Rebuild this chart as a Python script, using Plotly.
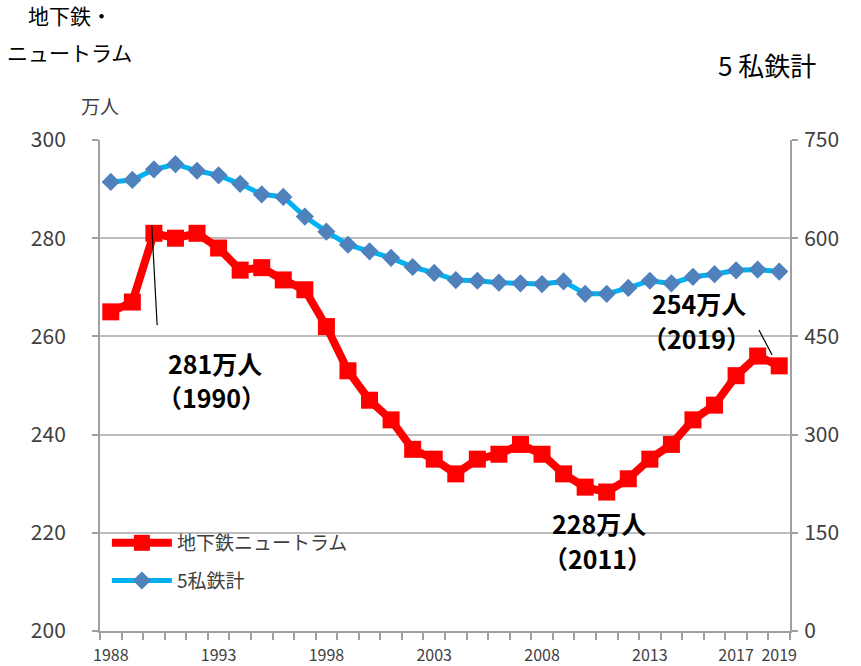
import plotly.graph_objects as go

years = list(range(1988, 2020))
subway = [265, 267, 281, 280, 281, 278, 273.5, 274, 271.5, 269.5, 262, 253, 247, 243, 237, 235,
          232, 235, 236, 238, 236, 232, 229.3, 228.3, 231, 235, 238, 243, 246, 252, 256, 254]
private5 = [686, 689, 705, 713, 703, 696, 683, 667, 663, 633, 610, 590, 580, 570, 556, 547,
            536, 535, 532, 531, 530, 534, 515, 515, 524, 535, 531, 541, 545, 551, 552, 549]
xtick_vals = [1988, 1993, 1998, 2003, 2008, 2013, 2017, 2019]
name_subway = "地下鉄ニュートラム"
name_private = "5私鉄計"

FONT = "Noto Sans CJK JP"
GREY = "#404040"

fig = go.Figure()
fig.add_trace(go.Scatter(x=years, y=subway, name=name_subway, yaxis="y",
                         mode="lines+markers", legendgroup="a",
                         line=dict(color="#FF0000", width=8),
                         marker=dict(symbol="square", size=17, color="#FF0000")))
fig.add_trace(go.Scatter(x=years, y=private5, name=name_private, yaxis="y2",
                         mode="lines+markers", legendgroup="b",
                         line=dict(color="#00B0F0", width=5),
                         marker=dict(symbol="diamond", size=14, color="#4F81BD")))

fig.update_layout(
    width=861, height=666,
    margin=dict(l=100, r=71, t=140, b=35),
    plot_bgcolor="white", paper_bgcolor="white",
    font=dict(family=FONT, color=GREY),
    showlegend=True,
    legend=dict(x=0.01, y=0.218, xanchor="left", yanchor="top",
                traceorder="grouped", bgcolor="rgba(0,0,0,0)",
                font=dict(size=19, color=GREY, family=FONT),
                itemwidth=60, tracegroupgap=10),
    xaxis=dict(range=[1987.5, 2019.5], tickmode="array", tickvals=xtick_vals,
               ticks="", showgrid=False, showline=True, linecolor="#A0A0A0", linewidth=2,
               tickfont=dict(size=16, color=GREY), ticklabelstandoff=9, automargin=False,
               minor=dict(ticks="outside", tickmode="linear", tick0=1987.5, dtick=1,
                          ticklen=7, tickcolor="#A0A0A0", tickwidth=2, showgrid=False),
               zeroline=False),
    yaxis=dict(range=[200, 300], tickvals=[200, 220, 240, 260, 280, 300],
               showgrid=True, gridcolor="#BDBDBD", gridwidth=2,
               showline=True, linecolor="#A0A0A0", linewidth=2, automargin=False,
               ticks="outside", ticklen=6, tickcolor="#A0A0A0", tickwidth=2,
               tickfont=dict(size=21, color=GREY), ticklabelstandoff=22, zeroline=False),
    yaxis2=dict(range=[0, 750], tickvals=[0, 150, 300, 450, 600, 750], overlaying="y",
                side="right", showgrid=False, showline=True, linecolor="#A0A0A0", linewidth=2,
                ticks="outside", ticklen=6, tickcolor="#A0A0A0", tickwidth=2, automargin=False,
                tickfont=dict(size=21, color=GREY), ticklabelstandoff=2, zeroline=False),
)

# axis titles
fig.add_annotation(xref="paper", yref="paper", x=-0.044, y=1.255, xanchor="center", yanchor="middle",
                   text="地下鉄・", showarrow=False,
                   font=dict(size=21, color="#000000", family=FONT))
fig.add_annotation(xref="paper", yref="paper", x=-0.044, y=1.18, xanchor="center", yanchor="middle",
                   text="ニュートラム", showarrow=False,
                   font=dict(size=21, color="#000000", family=FONT))
fig.add_annotation(xref="paper", yref="paper", x=0.0, y=1.071, xanchor="center", yanchor="middle",
                   text="万人", showarrow=False, font=dict(size=19, color=GREY, family=FONT))
fig.add_annotation(xref="paper", yref="paper", x=1.041, y=1.153, xanchor="right", yanchor="middle",
                   text="5 私鉄計", showarrow=False, font=dict(size=26, color="#000000", family=FONT))

# data callouts (two lines each)
def label(x, y, text):
    fig.add_annotation(x=x, y=y, xref="x", yref="y", text=text, showarrow=False,
                       xanchor="center", yanchor="middle", borderpad=0,
                       font=dict(size=25, color="#000000", family=FONT))

def leader(x0, y0, x1, y1):
    fig.add_shape(type="line", xref="x", yref="y", x0=x0, y0=y0, x1=x1, y1=y1,
                  line=dict(color="#000000", width=1.2))

label(1992.82, 254.6, "<b>281万人</b>")
label(1992.68, 247.7, "<b>（1990）</b>")
leader(1989.9, 282.7, 1990.15, 262.3)

label(2010.63, 222.0, "<b>228万人</b>")
label(2010.55, 214.9, "<b>（2011）</b>")

label(2015.27, 266.8, "<b>254万人</b>")
label(2015.18, 259.6, "<b>（2019）</b>")
leader(2018.06, 261.3, 2018.67, 256.2)

fig.write_html("out.html", config={"displayModeBar": False},
               post_script="document.body.style.margin='0';")
